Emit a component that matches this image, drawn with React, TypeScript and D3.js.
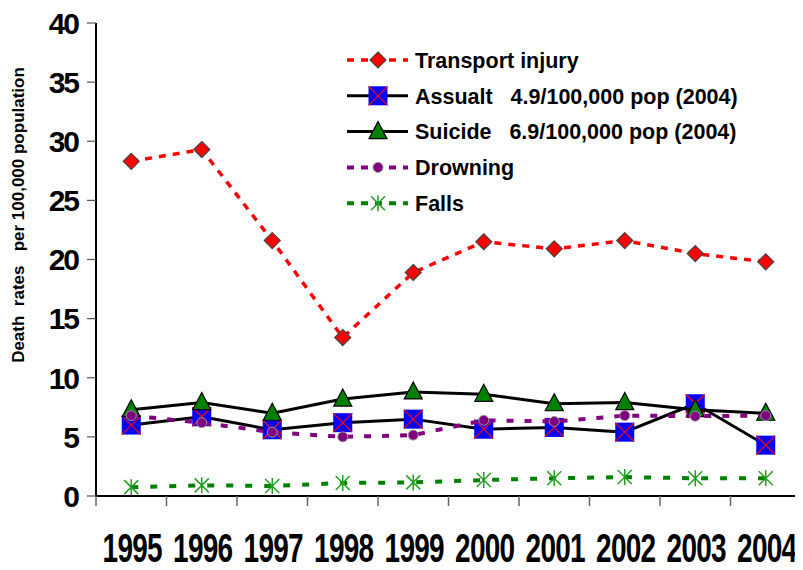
import * as d3 from "d3";

const years = ["1995", "1996", "1997", "1998", "1999", "2000", "2001", "2002", "2003", "2004"];
const transport = [28.3, 29.3, 21.6, 13.4, 18.9, 21.5, 20.9, 21.6, 20.5, 19.8];
const assault = [6.0, 6.7, 5.6, 6.2, 6.5, 5.65, 5.8, 5.4, 7.8, 4.3];
const suicide = [7.3, 7.9, 7.0, 8.2, 8.8, 8.6, 7.8, 7.9, 7.3, 7.0];
const drowning = [6.8, 6.2, 5.4, 5.0, 5.15, 6.4, 6.3, 6.8, 6.75, 6.8];
const falls = [0.75, 0.9, 0.85, 1.1, 1.15, 1.35, 1.5, 1.6, 1.5, 1.5];
const yTicks = [0, 5, 10, 15, 20, 25, 30, 35, 40];
const legendLabels = [
  "Transport injury",
  "Assualt   4.9/100,000 pop (2004)",
  "Suicide   6.9/100,000 pop (2004)",
  "Drowning",
  "Falls",
];

const W = 803;
const H = 570;
const FONT = "'Liberation Sans', Arial, sans-serif";

type Kind = "diamond" | "square" | "triangle" | "circle" | "star";

const series: { values: number[]; kind: Kind; color: string; width: number; dash?: string }[] = [
  { values: transport, kind: "diamond", color: "#ff0000", width: 3.5, dash: "7,7" },
  { values: assault, kind: "square", color: "#000000", width: 3 },
  { values: suicide, kind: "triangle", color: "#000000", width: 3 },
  { values: drowning, kind: "circle", color: "#800080", width: 4, dash: "7,11" },
  { values: falls, kind: "star", color: "#008000", width: 4, dash: "7,12" },
];

function Marker({ kind, x, y }: { kind: Kind; x: number; y: number }) {
  if (kind === "diamond") {
    const s = 8;
    return (
      <path
        d={`M${x},${y - s}L${x + s},${y}L${x},${y + s}L${x - s},${y}Z`}
        fill="#ff0000"
        stroke="#444"
        strokeWidth={1.2}
      />
    );
  }
  if (kind === "square") {
    const s = 9.5;
    return (
      <g>
        <rect x={x - s} y={y - s} width={2 * s} height={2 * s} fill="#0000ff" />
        <path
          d={`M${x - s},${y - s}L${x + s},${y + s}M${x + s},${y - s}L${x - s},${y + s}`}
          stroke="#ff0000"
          strokeWidth={1.2}
        />
      </g>
    );
  }
  if (kind === "triangle") {
    return (
      <path
        d={`M${x},${y - 10}L${x + 9},${y + 7}L${x - 9},${y + 7}Z`}
        fill="#008000"
        stroke="#000"
        strokeWidth={1.2}
      />
    );
  }
  if (kind === "circle") {
    return <circle cx={x} cy={y} r={5} fill="#800080" stroke="#999" strokeWidth={1} />;
  }
  const s = 7;
  return (
    <path
      d={`M${x - s},${y - s}L${x + s},${y + s}M${x + s},${y - s}L${x - s},${y + s}M${x},${y - s - 1}L${x},${y + s + 1}`}
      stroke="#22a022"
      strokeWidth={1.5}
    />
  );
}

export default function App() {
  const x = d3.scaleBand<string>().domain(years).range([96, 801]);
  const y = d3.scaleLinear().domain([0, 40]).range([496, 23]);
  const cx = (yr: string) => (x(yr) ?? 0) + x.bandwidth() / 2;
  const line = d3
    .line<number>()
    .x((_, i) => cx(years[i]))
    .y((d) => y(d));

  const legendY = (i: number) => 60 + i * 35.8;

  return (
    <svg width={W} height={H} style={{ display: "block", margin: "-8px", background: "#fff" }} fontFamily={FONT}>
      {/* axes */}
      <line x1={801} x2={801} y1={0} y2={496} stroke="#999" strokeWidth={1} />
      <line x1={96} x2={96} y1={23} y2={497} stroke="#000" strokeWidth={2} />
      <line x1={95} x2={801} y1={496} y2={496} stroke="#000" strokeWidth={2} />
      {yTicks.map((t) => (
        <g key={t}>
          <line x1={87} x2={96} y1={y(t)} y2={y(t)} stroke="#555" strokeWidth={1.2} />
          <text
            x={78}
            y={y(t)}
            dy="0.36em"
            textAnchor="end"
            fontSize={30}
            fontWeight="bold"
            letterSpacing={-2}
          >
            {t}
          </text>
        </g>
      ))}
      {[...years.map((yr) => x(yr) ?? 0), 801].map((p, i) => (
        <line key={i} x1={p} x2={p} y1={496} y2={506} stroke="#666" strokeWidth={1.5} />
      ))}
      {years.map((yr) => (
        <text
          key={yr}
          transform={`translate(${cx(yr) + 1},562) scale(0.7,1)`}
          textAnchor="middle"
          fontSize={40}
          fontWeight="bold"
          letterSpacing={-1}
        >
          {yr}
        </text>
      ))}
      <text
        transform="translate(24,215) rotate(-90)"
        textAnchor="middle"
        fontSize={17}
        fontWeight="bold"
        style={{ whiteSpace: "pre" }}
      >
        {"Death  rates   per 100,000 population"}
      </text>

      {/* series */}
      {series.map((s, si) => (
        <g key={si}>
          <path
            d={line(s.values) ?? ""}
            fill="none"
            stroke={s.color}
            strokeWidth={s.width}
            strokeDasharray={s.dash}
            strokeLinejoin="round"
          />
          {s.values.map((v, i) => (
            <Marker key={i} kind={s.kind} x={cx(years[i])} y={y(v)} />
          ))}
        </g>
      ))}

      {/* legend */}
      {series.map((s, i) => (
        <g key={i}>
          <line
            x1={347}
            x2={408}
            y1={legendY(i)}
            y2={legendY(i)}
            stroke={s.color}
            strokeWidth={s.width}
            strokeDasharray={s.dash ? "7,7" : undefined}
          />
          <Marker kind={s.kind} x={378} y={legendY(i)} />
          <text
            x={415}
            y={legendY(i)}
            dy="0.36em"
            fontSize={21.5}
            fontWeight="bold"
            style={{ whiteSpace: "pre" }}
          >
            {legendLabels[i]}
          </text>
        </g>
      ))}
    </svg>
  );
}
